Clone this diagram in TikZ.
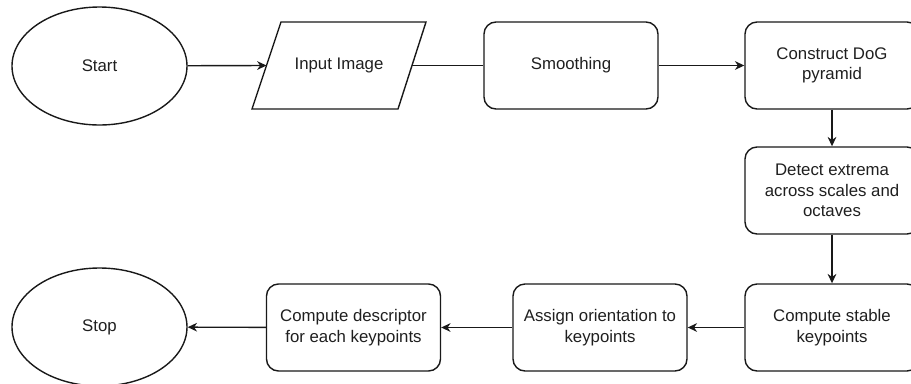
\documentclass[tikz,border=0pt]{standalone}
\usepackage{fontspec}
\setmainfont{Liberation Sans}
\usetikzlibrary{arrows.meta,shapes.geometric}
\tikzset{
  px/.style={x=0.75pt,y=-0.75pt},
  base/.style={draw=black!90, line width=1.05pt, align=center, inner sep=0pt,
    font=\fontsize{12.6pt}{15.4pt}\selectfont, text=black!88},
  stepbox/.style={base, rectangle, rounded corners=9pt, minimum width=130.5pt, minimum height=65.25pt},
  oval/.style={base, ellipse, minimum width=131.25pt, minimum height=88.5pt},
  arr/.style={draw=black!90, line width=1.05pt, -{Stealth[length=7pt,width=6.5pt,inset=2.2pt]}},
  plain/.style={draw=black!90, line width=1.05pt}
}
\begin{document}
\begin{tikzpicture}[px]
\useasboundingbox (0,0) rectangle (911,383);
\clip (0,0) rectangle (911,383);
% top row
\node[oval] (start) at (99.5,66) {Start};
\draw[base] (252,109) -- (281,22) -- (426,22) -- (398,109) -- cycle;
\node[align=center, inner sep=0pt, font=\fontsize{12.6pt}{15.4pt}\selectfont, text=black!88] (input) at (339,65.5) {Input Image};
\coordinate (inL) at (266.5,65.5);
\coordinate (inR) at (411.5,65.5);
\node[stepbox] (smooth) at (571,65.5) {Smoothing};
\node[stepbox] (dog) at (832,65.5) {Construct DoG\\pyramid};
% right column
\node[stepbox] (detect) at (832,190.5) {Detect extrema\\across scales and\\octaves};
\node[stepbox] (stable) at (832,327.5) {Compute stable\\keypoints};
% bottom row
\node[stepbox] (assign) at (600,327.5) {Assign orientation to\\keypoints};
\node[stepbox] (desc) at (353.5,327.5) {Compute descriptor\\for each keypoints};
\node[oval] (stop) at (99.5,327) {Stop};
% connectors
\draw[arr] (start) -- (inL);
\draw[plain] (inR) -- (smooth);
\draw[arr] (smooth) -- (dog);
\draw[arr] (dog) -- (detect);
\draw[arr] (detect) -- (stable);
\draw[arr] (stable) -- (assign);
\draw[arr] (assign) -- (desc);
\draw[arr] (desc) -- (stop);
\end{tikzpicture}
\end{document}
